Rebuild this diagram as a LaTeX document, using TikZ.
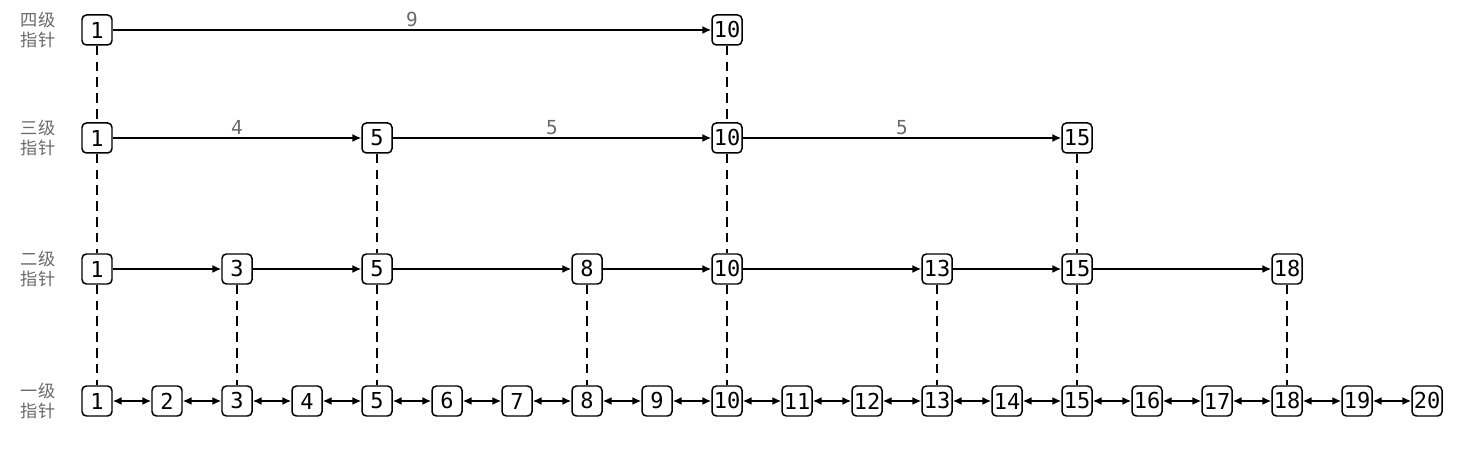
\documentclass[tikz,border=0pt]{standalone}
\usepackage{fontspec}
\setmonofont{DejaVu Sans Mono}
\newfontfamily\cjk{Noto Sans CJK SC}
\usepackage{xcolor}
\usetikzlibrary{arrows.meta}
\definecolor{GrisNivel}{RGB}{105,105,105}

\begin{document}
\begin{tikzpicture}[>={Latex[length=5pt,width=4.5pt]},
  nodo/.style={draw, line width=0.85pt, rounded corners=2.5pt, minimum size=0.6cm,
    inner sep=0pt, font=\ttfamily\fontsize{12.5}{14}\selectfont},
  nivel/.style={text=GrisNivel, align=center, font=\cjk\fontsize{9.8}{11.4}\selectfont},
  peso/.style={text=GrisNivel, above, inner sep=1.5pt, font=\ttfamily\fontsize{11}{12}\selectfont},
  enlace/.style={->, line width=0.85pt},
  bajada/.style={line width=0.85pt, dash pattern=on 5.5pt off 3.5pt}]
  \useasboundingbox (0,0) rectangle (29.16,-9.22);

  % etiquetas de nivel
  \node[nivel] (et4) at (0.76,-0.6)  {四级\\指针};
  \node[nivel] (et3) at (0.76,-2.76) {三级\\指针};
  \node[nivel] (et2) at (0.76,-5.38) {二级\\指针};
  \node[nivel] (et1) at (0.76,-8.02) {一级\\指针};

  % nodos
  \foreach \v in {1,...,20}
    \node[nodo] (n1-\v) at ({1.94+(\v-1)*1.4},-8.02) {\v};
  \foreach \v in {1,3,5,8,10,13,15,18}
    \node[nodo] (n2-\v) at ({1.94+(\v-1)*1.4},-5.38) {\v};
  \foreach \v in {1,5,10,15}
    \node[nodo] (n3-\v) at ({1.94+(\v-1)*1.4},-2.76) {\v};
  \foreach \v in {1,10}
    \node[nodo] (n4-\v) at ({1.94+(\v-1)*1.4},-0.6) {\v};

  % enlaces horizontales
  \foreach \v [evaluate=\v as \w using int(\v+1)] in {1,...,19}
    \draw[<->, line width=0.85pt] (n1-\v) -- (n1-\w);
  \foreach \a/\b in {1/3,3/5,5/8,8/10,10/13,13/15,15/18}
    \draw[enlace] (n2-\a) -- (n2-\b);
  \foreach \a/\b/\d in {1/5/4,5/10/5,10/15/5}
    \draw[enlace] (n3-\a) -- node[peso] {\d} (n3-\b);
  \draw[enlace] (n4-1) -- node[peso] {9} (n4-10);

  % bajadas punteadas
  \foreach \v in {1,10}
    \draw[bajada] (n4-\v) -- (n3-\v);
  \foreach \v in {1,5,10,15}
    \draw[bajada] (n3-\v) -- (n2-\v);
  \foreach \v in {1,3,5,8,10,13,15,18}
    \draw[bajada] (n2-\v) -- (n1-\v);
\end{tikzpicture}
\end{document}
